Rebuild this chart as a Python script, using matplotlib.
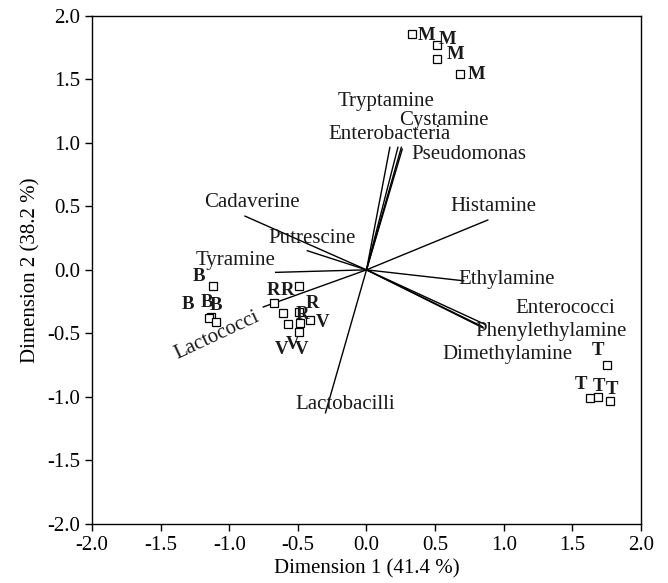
import matplotlib
matplotlib.use("Agg")
import matplotlib.pyplot as plt

## sample scores (dimension 1, dimension 2) ##
sample_groups = ["M", "T", "B", "R", "V"]
sample_x = {
    "M": [0.334, 0.516, 0.516, 0.681],
    "T": [1.75, 1.63, 1.69, 1.775],
    "B": [-1.117, -1.13, -1.148, -1.097],
    "R": [-0.672, -0.49, -0.49, -0.485],
    "V": [-0.412, -0.606, -0.57, -0.49],
}
sample_y = {
    "M": [1.853, 1.77, 1.66, 1.54],
    "T": [-0.748, -1.01, -0.998, -1.03],
    "B": [-0.131, -0.37, -0.38, -0.407],
    "R": [-0.257, -0.131, -0.328, -0.415],
    "V": [-0.394, -0.336, -0.425, -0.486],
}

## variable loadings (vector ends) ##
variables = ["Tryptamine", "Cystamine", "Enterobacteria", "Pseudomonas",
             "Histamine", "Cadaverine", "Putrescine", "Tyramine", "Lactococci",
             "Lactobacilli", "Ethylamine", "Enterococci", "Phenylethylamine",
             "Dimethylamine"]
var_x = [0.171, 0.255, 0.23, 0.262, 0.888, -0.89, -0.436, -0.667, -0.757,
         -0.30, 0.713, 0.865, 0.85, 0.855]
var_y = [0.969, 0.969, 0.969, 0.955, 0.394, 0.425, 0.152, -0.02, -0.294,
         -1.13, -0.087, -0.43, -0.45, -0.46]

## where the text labels sit ##
var_label_x = [0.146, 0.565, 0.168, 0.743, 0.926, -0.838, -0.394, -0.953,
               -1.086, -0.157, 1.024, 1.447, 1.343, 1.028]
var_label_y = [1.323, 1.173, 1.063, 0.906, 0.499, 0.53, 0.25, 0.073,
               -0.518, -1.063, -0.079, -0.302, -0.486, -0.669]
var_label_rot = [0, 0, 0, 0, 0, 0, 0, 0, 25, 0, 0, 0, 0, 0]

sample_label_x = {
    "M": [0.434, 0.587, 0.645, 0.805],
    "T": [1.69, 1.566, 1.695, 1.787],
    "B": [-1.223, -1.303, -1.16, -1.099],
    "R": [-0.679, -0.577, -0.395, -0.468],
    "V": [-0.322, -0.618, -0.541, -0.472],
}
sample_label_y = {
    "M": [1.845, 1.811, 1.693, 1.535],
    "T": [-0.635, -0.906, -0.919, -0.945],
    "B": [-0.053, -0.276, -0.254, -0.278],
    "R": [-0.163, -0.163, -0.268, -0.349],
    "V": [-0.415, -0.63, -0.59, -0.63],
}

plt.rcParams["font.family"] = ["Liberation Serif", "DejaVu Serif"]
plt.rcParams["axes.unicode_minus"] = False

fig = plt.figure(figsize=(6.68, 5.83), dpi=100)
ax = fig.add_axes([0.1377, 0.1012, 0.8219, 0.8719])

## vectors from the origin ##
for vx, vy in zip(var_x, var_y):
    ax.plot([0, vx], [0, vy], color="black", linewidth=1.0, solid_capstyle="butt")

for name, lx, ly, rot in zip(variables, var_label_x, var_label_y, var_label_rot):
    ax.text(lx, ly, name, fontsize=15, ha="center", va="center",
            rotation=rot, color="#1a1a1a")

## sample squares and letters ##
for g in sample_groups:
    ax.plot(sample_x[g], sample_y[g], linestyle="none", marker="s",
            markersize=5.5, markerfacecolor="white", markeredgecolor="black",
            markeredgewidth=0.9)
    for lx, ly in zip(sample_label_x[g], sample_label_y[g]):
        ax.text(lx, ly, g, fontsize=13.5, fontweight="bold", ha="center",
                va="center", color="#1a1a1a")

ax.set_xlim(-2.0, 2.0)
ax.set_ylim(-2.0, 2.0)
ticks = [-2.0, -1.5, -1.0, -0.5, 0.0, 0.5, 1.0, 1.5, 2.0]
ax.set_xticks(ticks)
ax.set_yticks(ticks)
ax.set_xticklabels([f"{t:.1f}" for t in ticks])
ax.set_yticklabels([f"{t:.1f}" for t in ticks])
ax.tick_params(direction="out", length=5, width=1, labelsize=15,
               top=False, right=False, colors="black")
for sp in ax.spines.values():
    sp.set_linewidth(1.0)

ax.set_xlabel("Dimension 1 (41.4 %)", fontsize=15, labelpad=3)
ax.set_ylabel("Dimension 2 (38.2 %)", fontsize=15, labelpad=5)

fig.savefig("out.png", dpi=100)
